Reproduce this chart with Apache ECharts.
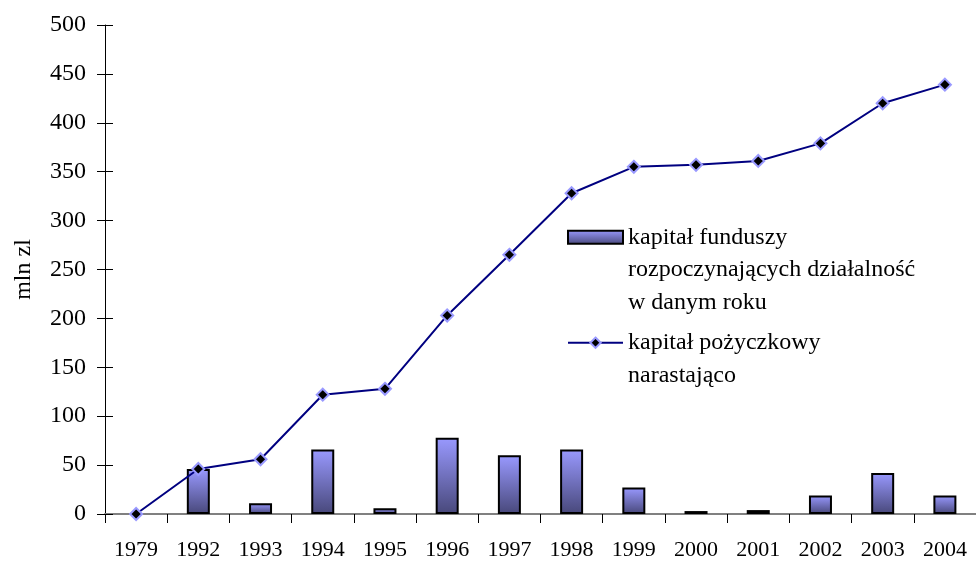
<!DOCTYPE html>
<html>
<head>
<meta charset="utf-8">
<script src="https://cdn.jsdelivr.net/npm/echarts@6/dist/echarts.min.js"></script>
<style>
  html, body { margin: 0; padding: 0; background: #fff; }
  #chart { width: 976px; height: 562px; }
</style>
</head>
<body>
<div id="chart"></div>
<script>
const years = ['1979', '1992', '1993', '1994', '1995', '1996', '1997', '1998', '1999', '2000', '2001', '2002', '2003', '2004']
// kapitał funduszy rozpoczynających działalność w danym roku (no bar drawn for 1979)
const newFunds = [null, 46, 11, 66, 6, 78, 60, 66, 27, 3, 4, 19, 42, 19]
// kapitał pożyczkowy narastająco
const cumulative = [0, 46, 56, 122, 128, 203, 265, 328, 355, 357, 361, 379, 420, 439]

const barName = 'kapitał funduszy\nrozpoczynających działalność\nw danym roku'
const lineName = 'kapitał pożyczkowy\nnarastająco'

const font = '"Liberation Serif", "Times New Roman", serif'
const chart = echarts.init(document.getElementById('chart'))

// legend icon sits on the first text line, so pad the text with empty lines above
const legendText = {
  fontFamily: font,
  fontSize: 24,
  color: '#000',
  lineHeight: 32.5
}

chart.setOption({
  animation: false,
  textStyle: { fontFamily: font },
  grid: { left: 105, top: 25, bottom: 48, width: 874 },
  legend: [
    {
      data: [{ name: barName, icon: 'rect' }],
      formatter: name => '\n\n' + name,
      left: 567,
      top: 156,
      padding: 0,
      itemWidth: 55,
      itemHeight: 13,
      textStyle: legendText
    },
    {
      data: [lineName],
      formatter: name => '\n' + name,
      left: 567,
      top: 294,
      padding: 0,
      itemWidth: 55,
      itemHeight: 13,
      textStyle: legendText
    }
  ],
  xAxis: {
    type: 'category',
    data: years,
    axisLine: { lineStyle: { color: '#808080', width: 2 } },
    axisTick: { show: true, length: 9, lineStyle: { color: '#000', width: 1 } },
    axisLabel: { color: '#000', fontSize: 22, margin: 25, interval: 0 }
  },
  yAxis: [
    {
      type: 'value',
      min: 0,
      max: 500,
      interval: 50,
      name: 'mln zl',
      nameLocation: 'middle',
      nameGap: 69,
      nameTextStyle: { color: '#000', fontSize: 24 },
      splitLine: { show: false },
      axisLine: { show: true, lineStyle: { color: '#000', width: 1 } },
      axisTick: { show: true, length: 8, lineStyle: { color: '#000' } },
      axisLabel: { color: '#000', fontSize: 24, margin: 19 }
    },
    {
      type: 'value',
      position: 'left',
      min: 0,
      max: 500,
      interval: 50,
      splitLine: { show: false },
      axisLine: { show: false },
      axisLabel: { show: false },
      axisTick: { show: true, inside: true, length: 8, lineStyle: { color: '#000' } }
    }
  ],
  series: [
    {
      name: barName,
      type: 'bar',
      data: newFunds,
      barWidth: 23,
      itemStyle: {
        borderColor: '#000',
        borderWidth: 2,
        color: new echarts.graphic.LinearGradient(0, 0, 0, 1, [
          { offset: 0, color: '#9999ff' },
          { offset: 1, color: '#48487a' }
        ])
      }
    },
    {
      name: lineName,
      type: 'line',
      data: cumulative,
      z: 3,
      symbol: 'diamond',
      symbolSize: 12,
      lineStyle: { color: '#000080', width: 2 },
      itemStyle: { color: '#000', borderColor: '#9999ff', borderWidth: 2 }
    }
  ]
})
</script>
</body>
</html>
